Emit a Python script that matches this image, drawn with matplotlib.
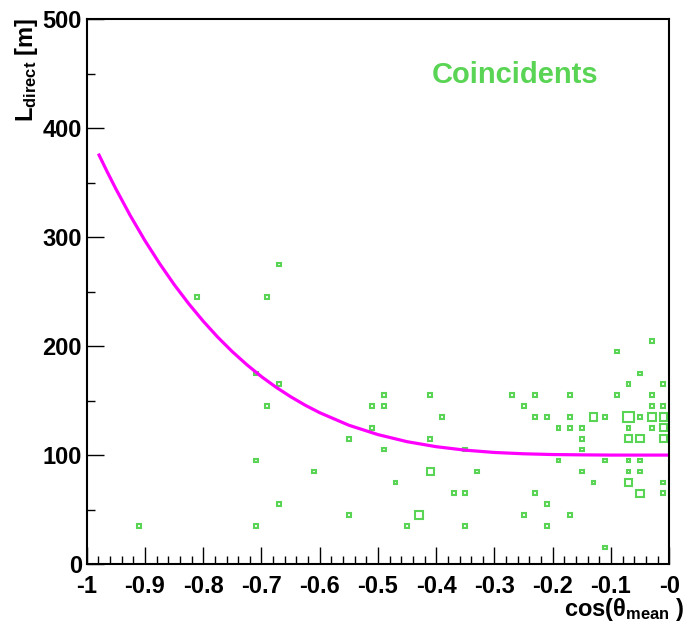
import matplotlib
matplotlib.use("Agg")
import matplotlib.pyplot as plt
from matplotlib.patches import Rectangle
from matplotlib.ticker import MultipleLocator, FixedLocator, FixedFormatter

plt.rcParams['font.family'] = ['Liberation Sans', 'DejaVu Sans']
plt.rcParams['font.weight'] = 'bold'
plt.rcParams['mathtext.fontset'] = 'custom'
plt.rcParams['mathtext.rm'] = 'Liberation Sans:bold'
plt.rcParams['mathtext.bf'] = 'Liberation Sans:bold'
plt.rcParams['mathtext.it'] = 'Liberation Sans:bold'
plt.rcParams['mathtext.default'] = 'bf'

# 2D histogram cells: bin centre in cos(theta), bin centre in L, entries
box_x = [-0.91,
         -0.81,
         -0.71, -0.71, -0.71,
         -0.69, -0.69,
         -0.67, -0.67, -0.67,
         -0.61,
         -0.55, -0.55,
         -0.51, -0.51,
         -0.49, -0.49, -0.49,
         -0.47,
         -0.45,
         -0.43,
         -0.41, -0.41, -0.41,
         -0.39,
         -0.37,
         -0.35, -0.35, -0.35,
         -0.33,
         -0.27,
         -0.25, -0.25,
         -0.23, -0.23, -0.23,
         -0.21, -0.21, -0.21,
         -0.19, -0.19,
         -0.17, -0.17, -0.17, -0.17,
         -0.15, -0.15, -0.15, -0.15,
         -0.13, -0.13,
         -0.11, -0.11, -0.11,
         -0.09, -0.09,
         -0.07, -0.07, -0.07, -0.07, -0.07, -0.07, -0.07,
         -0.05, -0.05, -0.05, -0.05, -0.05, -0.05,
         -0.03, -0.03, -0.03, -0.03, -0.03,
         -0.01, -0.01, -0.01, -0.01, -0.01, -0.01, -0.01]
box_y = [35,
         245,
         175, 95, 35,
         245, 145,
         275, 165, 55,
         85,
         115, 45,
         145, 125,
         155, 145, 105,
         75,
         35,
         45,
         155, 115, 85,
         135,
         65,
         105, 65, 35,
         85,
         155,
         145, 45,
         155, 135, 65,
         135, 55, 35,
         125, 95,
         155, 135, 125, 45,
         125, 115, 105, 85,
         135, 75,
         135, 95, 15,
         195, 155,
         165, 135, 125, 115, 95, 85, 75,
         175, 135, 115, 95, 85, 65,
         205, 155, 145, 135, 125,
         165, 145, 135, 125, 115, 75, 65]
box_n = [1,
         1,
         1, 1, 1,
         1, 1,
         1, 1, 1,
         1,
         1, 1,
         1, 1,
         1, 1, 1,
         1,
         1,
         2,
         1, 1, 2,
         1,
         1,
         1, 1, 1,
         1,
         1,
         1, 1,
         1, 1, 1,
         1, 1, 1,
         1, 1,
         1, 1, 1, 1,
         1, 1, 1, 1,
         2, 1,
         1, 1, 1,
         1, 1,
         1, 3, 1, 2, 1, 1, 2,
         1, 1, 2, 1, 1, 2,
         1, 1, 1, 2, 1,
         1, 1, 2, 2, 2, 1, 1]

# parametrised L(cos theta) curve
curve_x = [-0.98, -0.965, -0.95, -0.925, -0.90, -0.875, -0.85, -0.825, -0.80, -0.775,
           -0.75, -0.725, -0.70, -0.675, -0.65, -0.625, -0.60, -0.55, -0.50,
           -0.45, -0.40, -0.35, -0.30, -0.25, -0.20, -0.15, -0.10, -0.05, 0.0]
curve_y = [376.7, 360.2, 344.4, 319.6, 296.8, 275.9, 256.6, 239.0, 222.9, 208.2,
           194.9, 182.9, 172.0, 162.3, 153.6, 145.8, 138.9, 127.4, 118.8,
           112.3, 107.7, 104.5, 102.4, 101.2, 100.5, 100.2, 100.0, 100.0, 100.0]

x_ticks = [-1.0, -0.9, -0.8, -0.7, -0.6, -0.5, -0.4, -0.3, -0.2, -0.1, 0.0]
x_tick_labels = ['-1', '-0.9', '-0.8', '-0.7', '-0.6', '-0.5', '-0.4', '-0.3', '-0.2', '-0.1', '-0']
y_ticks = [0, 100, 200, 300, 400, 500]

green = '#59d454'
bin_w = 0.02
bin_h = 10.0
n_max = max(box_n)

fig = plt.figure(figsize=(6.91, 6.29), dpi=100)
ax = fig.add_axes([0.1255, 0.1033, 0.843, 0.866])

for x, y, n in zip(box_x, box_y, box_n):
    w = bin_w * n / n_max
    h = bin_h * n / n_max
    ax.add_patch(Rectangle((x - w / 2, y - h / 2), w, h, fill=False,
                           edgecolor=green, linewidth=1.5))

ax.plot(curve_x, curve_y, color='#ff00ff', linewidth=2.3,
        solid_capstyle='butt', solid_joinstyle='round')

ax.set_xlim(-1, 0)
ax.set_ylim(0, 500)

ax.xaxis.set_major_locator(FixedLocator(x_ticks))
ax.xaxis.set_major_formatter(FixedFormatter(x_tick_labels))
ax.xaxis.set_minor_locator(MultipleLocator(0.02))
ax.yaxis.set_major_locator(FixedLocator(y_ticks))
ax.yaxis.set_minor_locator(MultipleLocator(50))

ax.tick_params(which='both', direction='in', top=False, right=False, width=1.0,
               labelsize=17, colors='black')
ax.tick_params(which='major', length=12)
ax.tick_params(which='minor', length=6)
ax.tick_params(axis='x', pad=8)
ax.tick_params(axis='y', pad=3.5)
for lab in ax.get_xticklabels() + ax.get_yticklabels():
    lab.set_fontweight('bold')

for sp in ax.spines.values():
    sp.set_linewidth(1.5)

fig.text(26 / 691, 1 - 18 / 629, r'L$_{direct}$ [m]', rotation=90,
         ha='center', va='top', fontsize=17, fontweight='bold')
fig.text(685 / 691, 1 - 616 / 629, r'cos($\mathrm{\theta}_{mean}$ )',
         ha='right', va='baseline', fontsize=17, fontweight='bold')
fig.text(432 / 691, 1 - 83 / 629, 'Coincidents', ha='left', va='baseline',
         fontsize=21, fontweight='bold', color=green)

fig.savefig('out.png', dpi=100)
